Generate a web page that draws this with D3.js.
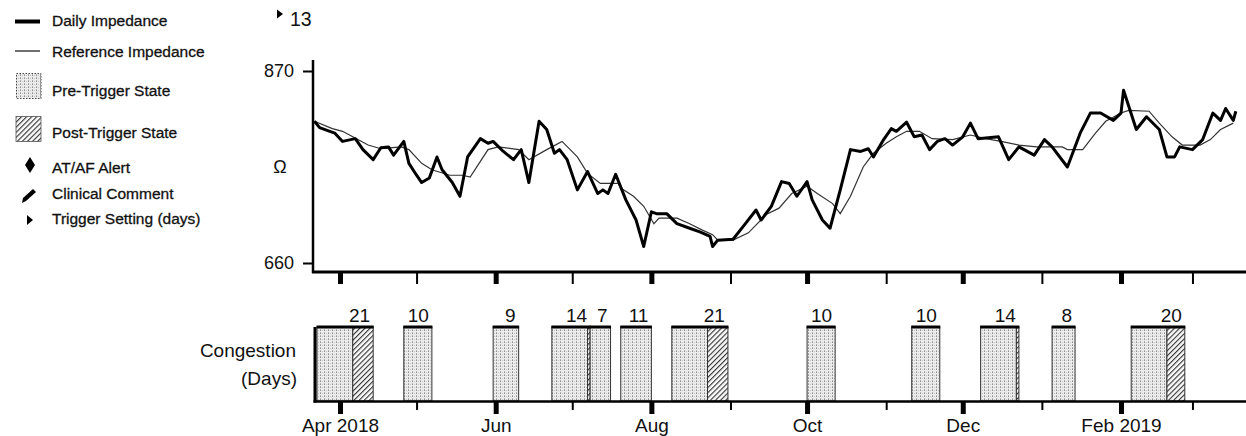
<!DOCTYPE html>
<html>
<head>
<meta charset="utf-8">
<script src="https://cdn.jsdelivr.net/npm/d3@7"></script>
<style>
  html, body { margin: 0; padding: 0; background: #fff; }
  svg { display: block; font-family: "Liberation Sans", Arial, sans-serif; }
</style>
</head>
<body>
<svg id="chart" width="1246" height="436"></svg>
<script>
// ---- Daily impedance (ohms) ----
const dailyDates = [
  "2018-03-22","2018-03-24","2018-03-28","2018-03-30","2018-04-02","2018-04-07","2018-04-10","2018-04-14",
  "2018-04-17","2018-04-20","2018-04-22","2018-04-26","2018-04-28","2018-05-01","2018-05-03","2018-05-06",
  "2018-05-09","2018-05-11","2018-05-15","2018-05-18","2018-05-21","2018-05-26","2018-05-29","2018-05-31",
  "2018-06-04","2018-06-08","2018-06-11","2018-06-14","2018-06-18","2018-06-21","2018-06-24","2018-06-26",
  "2018-06-29","2018-07-03","2018-07-07","2018-07-11","2018-07-13","2018-07-15","2018-07-18","2018-07-22",
  "2018-07-26","2018-07-29","2018-08-01","2018-08-03","2018-08-07","2018-08-11","2018-08-16","2018-08-20",
  "2018-08-24","2018-08-25","2018-08-27","2018-09-02","2018-09-06","2018-09-11","2018-09-13","2018-09-17",
  "2018-09-21","2018-09-24","2018-09-27","2018-10-01","2018-10-03","2018-10-07","2018-10-10","2018-10-14",
  "2018-10-18","2018-10-22","2018-10-25","2018-10-27","2018-10-31","2018-11-03","2018-11-05","2018-11-09",
  "2018-11-12","2018-11-15","2018-11-18","2018-11-21","2018-11-24","2018-11-27","2018-12-01","2018-12-04",
  "2018-12-07","2018-12-15","2018-12-19","2018-12-23","2018-12-29","2019-01-02","2019-01-05","2019-01-11",
  "2019-01-16","2019-01-20","2019-01-24","2019-01-29","2019-02-01","2019-02-02","2019-02-07","2019-02-11",
  "2019-02-16","2019-02-19","2019-02-22","2019-02-24","2019-03-01","2019-03-05","2019-03-09","2019-03-12",
  "2019-03-14","2019-03-17","2019-03-18"
];
const dailyValues = [
  815, 808, 804, 802, 793, 796, 784, 773,
  786, 787, 778, 793, 769, 756, 748, 753,
  776, 762, 748, 733, 776, 796, 791, 793,
  782, 773, 784, 748, 815, 806, 780, 784,
  773, 740, 760, 736, 740, 736, 757, 729,
  707, 678, 716, 714, 714, 703, 698, 694,
  689, 678, 685, 686, 700, 718, 707, 722,
  749, 747, 733, 749, 729, 707, 698, 740,
  784, 782, 785, 776, 795, 807, 804, 814,
  798, 800, 784, 793, 796, 789, 798, 813,
  796, 798, 773, 787, 778, 795, 787, 765,
  802, 824, 824, 816, 824, 849, 806, 820,
  806, 776, 776, 787, 784, 795, 824, 816,
  829, 816, 826
];

// ---- Reference impedance (ohms) ----
const refDates = [
  "2018-03-22","2018-03-29","2018-04-02","2018-04-06","2018-04-12","2018-04-17","2018-04-25","2018-04-28",
  "2018-05-03","2018-05-07","2018-05-14","2018-05-19","2018-05-22","2018-05-29","2018-06-02","2018-06-10",
  "2018-06-14","2018-06-21","2018-06-27","2018-07-03","2018-07-07","2018-07-12","2018-07-19","2018-07-20",
  "2018-07-25","2018-07-29","2018-08-02","2018-08-04","2018-08-11","2018-08-16","2018-08-21","2018-08-25",
  "2018-08-27","2018-09-02","2018-09-08","2018-09-15","2018-09-20","2018-09-25","2018-10-01","2018-10-05",
  "2018-10-11","2018-10-14","2018-10-18","2018-10-23","2018-10-27","2018-11-01","2018-11-05","2018-11-09",
  "2018-11-14","2018-11-19","2018-11-27","2018-12-04","2018-12-10","2018-12-16","2018-12-23","2018-12-30",
  "2019-01-09","2019-01-11","2019-01-17","2019-01-22","2019-01-26","2019-02-01","2019-02-04","2019-02-12",
  "2019-02-16","2019-02-21","2019-02-25","2019-03-04","2019-03-08","2019-03-12","2019-03-17"
];
const refValues = [
  815, 807, 804, 798, 789, 785, 787, 784,
  769, 762, 756, 756, 754, 784, 787, 784,
  773, 784, 793, 776, 758, 747, 747, 742,
  733, 722, 703, 709, 709, 703, 696, 691,
  685, 685, 693, 713, 720, 736, 744, 736,
  725, 714, 733, 765, 780, 791, 798, 804,
  804, 796, 795, 800, 796, 793, 789, 787,
  787, 784, 784, 802, 815, 824, 827, 826,
  813, 798, 789, 789, 795, 806, 813
];

// ---- Congestion episodes ----
const episodeStarts = [
  "2018-03-23","2018-04-26","2018-05-31","2018-06-23","2018-07-08","2018-07-20",
  "2018-08-09","2018-10-01","2018-11-11","2018-12-08","2019-01-05","2019-02-05"
];
const episodeDays = [21, 10, 9, 14, 7, 11, 21, 10, 10, 14, 8, 20];
const triggerDays = 13;

// ---- Axis ticks ----
const monthTicks = [
  "2018-04-01","2018-05-01","2018-06-01","2018-07-01","2018-08-01","2018-09-01",
  "2018-10-01","2018-11-01","2018-12-01","2019-01-01","2019-02-01","2019-03-01"
];
const monthLabels = ["Apr 2018","","Jun","","Aug","","Oct","","Dec","","Feb 2019",""];
const impedanceTicks = [660, 870];

const legendItems = [
  "Daily Impedance", "Reference Impedance", "Pre-Trigger State", "Post-Trigger State",
  "AT/AF Alert", "Clinical Comment", "Trigger Setting (days)"
];

const parse = d3.utcParse("%Y-%m-%d");
const dayMs = 86400000;

const svg = d3.select("#chart");

// Time scale shared by both panels
const x = d3.scaleUtc()
  .domain([parse("2018-04-01"), parse("2019-02-01")])
  .range([340, 1121]);

const y = d3.scaleLinear().domain(impedanceTicks).range([263, 71]);

// ---- Fill patterns ----
const defs = svg.append("defs");
const dots = defs.append("pattern")
  .attr("id", "preFill").attr("patternUnits", "userSpaceOnUse")
  .attr("width", 4).attr("height", 3);
dots.append("rect").attr("width", 4).attr("height", 3).attr("fill", "#ececec");
dots.append("rect").attr("x", 0).attr("y", 0).attr("width", 1).attr("height", 1).attr("fill", "#8f8f8f");
dots.append("rect").attr("x", 0).attr("y", 2).attr("width", 1).attr("height", 1).attr("fill", "#b0b0b0");
dots.append("rect").attr("x", 2).attr("y", 0).attr("width", 1).attr("height", 1).attr("fill", "#c4c4c4");

const hatch = defs.append("pattern")
  .attr("id", "postFill").attr("patternUnits", "userSpaceOnUse")
  .attr("width", 3.6).attr("height", 3.6)
  .attr("patternTransform", "rotate(45)");
hatch.append("rect").attr("width", 3.6).attr("height", 3.6).attr("fill", "#fafafa");
hatch.append("line").attr("x1", 0.6).attr("y1", 0).attr("x2", 0.6).attr("y2", 3.6)
  .attr("stroke", "#1a1a1a").attr("stroke-width", 1);

// ---- Legend ----
const legend = svg.append("g").attr("font-size", 15.5).attr("fill", "#111");
const legendBaselines = [26, 57, 96, 138, 173, 199, 224];
legend.selectAll("text").data(legendItems).join("text")
  .attr("x", 52).attr("y", (d, i) => legendBaselines[i])
  .attr("stroke", "#111").attr("stroke-width", 0.3)
  .text(d => d);

legend.append("line").attr("x1", 15).attr("x2", 40).attr("y1", 21.5).attr("y2", 21.5)
  .attr("stroke", "#000").attr("stroke-width", 4);
legend.append("line").attr("x1", 15).attr("x2", 40).attr("y1", 51).attr("y2", 51)
  .attr("stroke", "#222").attr("stroke-width", 1.3);
legend.append("rect").attr("x", 16.5).attr("y", 73.5).attr("width", 24.5).attr("height", 25)
  .attr("fill", "url(#preFill)").attr("stroke", "#444").attr("stroke-width", 1)
  .attr("stroke-dasharray", "1.5,1.5");
legend.append("rect").attr("x", 16).attr("y", 116.5).attr("width", 25).attr("height", 25)
  .attr("fill", "url(#postFill)").attr("stroke", "#555").attr("stroke-width", 0.8);
legend.append("path").attr("d", "M30,157 L35,165 L30,173 L25,165 Z").attr("fill", "#000");
legend.append("path")
  .attr("d", "M22,203 L23,198 L33,189 L36,192 L26,201 Z")
  .attr("fill", "#000");
legend.append("path").attr("d", "M27,215 L33,220 L27,225 Z").attr("fill", "#000");

// ---- Trigger setting marker ----
svg.append("path").attr("d", "M277,9.5 L283,14 L277,18.5 Z").attr("fill", "#000");
svg.append("text").attr("x", 290).attr("y", 26).attr("font-size", 19.5).attr("fill", "#111")
  .text(triggerDays);

// ---- Impedance panel ----
const impPanel = svg.append("g");

// y axis
impPanel.append("line").attr("x1", 313).attr("x2", 313).attr("y1", 60).attr("y2", 273)
  .attr("stroke", "#000").attr("stroke-width", 2.5);
const yAxis = impPanel.append("g").attr("transform", "translate(313,0)")
  .call(d3.axisLeft(y).tickValues(impedanceTicks).tickSize(10).tickPadding(9));
yAxis.select(".domain").remove();
yAxis.selectAll(".tick line").attr("stroke", "#000").attr("stroke-width", 2);
yAxis.selectAll(".tick text").attr("font-size", 18).attr("fill", "#111")
  .attr("font-family", "Liberation Sans, Arial, sans-serif");
impPanel.append("text").attr("x", 280).attr("y", 173).attr("text-anchor", "middle")
  .attr("font-size", 18).attr("fill", "#111").text("Ω");

// x axis (ticks only)
const monthDates = monthTicks.map(parse);
impPanel.append("line").attr("x1", 312).attr("x2", 1246).attr("y1", 272).attr("y2", 272)
  .attr("stroke", "#000").attr("stroke-width", 3);
const xTop = impPanel.append("g").attr("transform", "translate(0,272)")
  .call(d3.axisBottom(x).tickValues(monthDates).tickSize(12).tickFormat(""));
xTop.select(".domain").remove();
xTop.selectAll(".tick line")
  .attr("stroke", "#000")
  .attr("stroke-width", (d, i) => monthLabels[i] ? 5 : 2);

// lines
const dailySeries = dailyDates.map((d, i) => ({ date: parse(d), value: dailyValues[i] }));
const refSeries = refDates.map((d, i) => ({ date: parse(d), value: refValues[i] }));
const lineGen = d3.line().x(d => x(d.date)).y(d => y(d.value));

impPanel.append("path").datum(refSeries).attr("d", lineGen)
  .attr("fill", "none").attr("stroke", "#333").attr("stroke-width", 1.2);
impPanel.append("path").datum(dailySeries).attr("d", lineGen)
  .attr("fill", "none").attr("stroke", "#000").attr("stroke-width", 3)
  .attr("stroke-linejoin", "round");

// ---- Congestion panel ----
const congPanel = svg.append("g");
const barTop = 327, barBase = 401;

congPanel.append("text").attr("x", 296).attr("y", 357).attr("text-anchor", "end")
  .attr("font-size", 19).attr("fill", "#111").text("Congestion");
congPanel.append("text").attr("x", 297).attr("y", 385).attr("text-anchor", "end")
  .attr("font-size", 19).attr("fill", "#111").text("(Days)");

const episodes = episodeStarts.map((s, i) => {
  const start = parse(s);
  const days = episodeDays[i];
  return {
    start,
    days,
    preEnd: new Date(+start + (Math.min(days, triggerDays) + 1) * dayMs),
    end: new Date(+start + (days + 1) * dayMs)
  };
});

const eg = congPanel.selectAll("g.episode").data(episodes).join("g").attr("class", "episode");
eg.append("rect")
  .attr("x", d => x(d.start)).attr("y", barTop)
  .attr("width", d => x(d.preEnd) - x(d.start)).attr("height", barBase - barTop)
  .attr("fill", "url(#preFill)").attr("stroke", "#333").attr("stroke-width", 1);
eg.filter(d => d.days > triggerDays).append("rect")
  .attr("x", d => x(d.preEnd)).attr("y", barTop)
  .attr("width", d => x(d.end) - x(d.preEnd)).attr("height", barBase - barTop)
  .attr("fill", "url(#postFill)").attr("stroke", "#333").attr("stroke-width", 1);
eg.append("line")
  .attr("x1", d => x(d.start) - 0.5).attr("x2", d => x(d.end) + 0.5)
  .attr("y1", barTop).attr("y2", barTop)
  .attr("stroke", "#000").attr("stroke-width", 3);
eg.append("text")
  .attr("x", d => x(d.end) - 3).attr("y", 322).attr("text-anchor", "end")
  .attr("font-size", 19).attr("fill", "#111").text(d => d.days);

// left edge and baseline
congPanel.append("line").attr("x1", 315).attr("x2", 315).attr("y1", 327).attr("y2", 402.5)
  .attr("stroke", "#000").attr("stroke-width", 3);
congPanel.append("line").attr("x1", 313.5).attr("x2", 1246).attr("y1", 401.5).attr("y2", 401.5)
  .attr("stroke", "#000").attr("stroke-width", 2.5);

const xBottom = congPanel.append("g").attr("transform", "translate(0,401)")
  .call(d3.axisBottom(x).tickValues(monthDates).tickSize(12)
    .tickFormat((d, i) => monthLabels[i]));
xBottom.select(".domain").remove();
xBottom.selectAll(".tick line")
  .attr("stroke", "#000")
  .attr("stroke-width", (d, i) => monthLabels[i] ? 5 : 2)
  .attr("y2", (d, i) => monthLabels[i] ? 13 : 9);
xBottom.selectAll(".tick text")
  .attr("dy", null).attr("y", 31)
  .attr("font-size", 19).attr("fill", "#111")
  .attr("font-family", "Liberation Sans, Arial, sans-serif");
</script>
</body>
</html>
